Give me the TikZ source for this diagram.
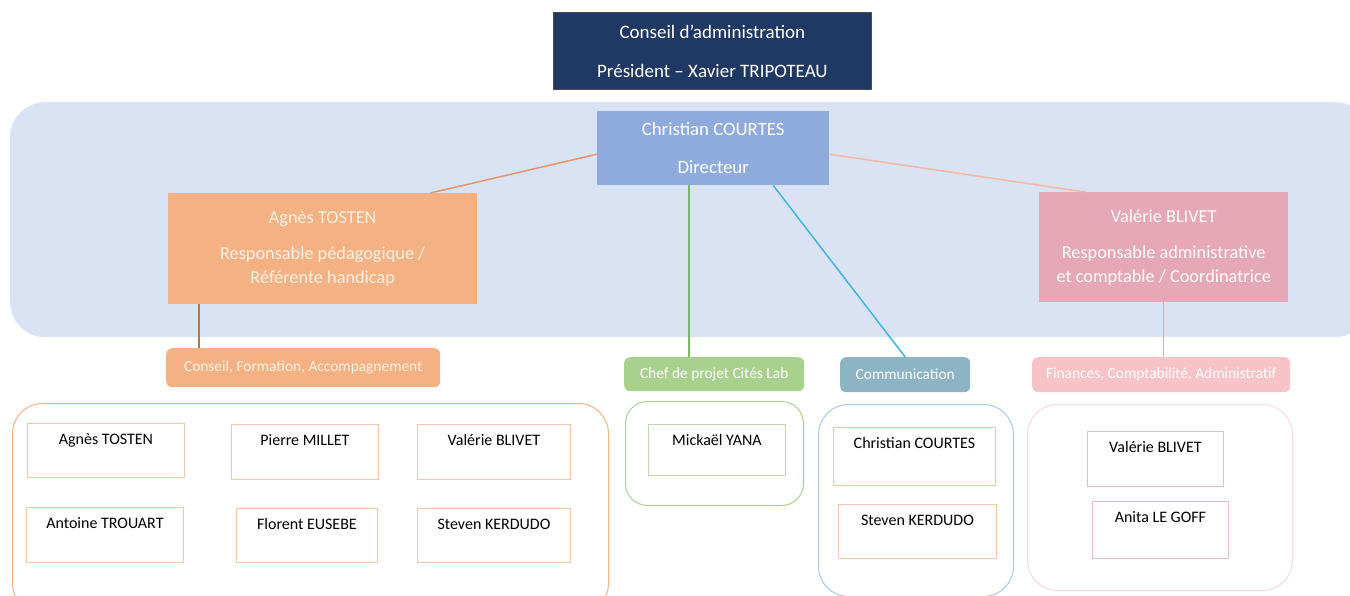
\documentclass[tikz,border=0pt]{standalone}
\usepackage{fontspec}
\setmainfont{Carlito}
\definecolor{navy}{HTML}{203864}
\definecolor{bgblue}{HTML}{DAE3F3}
\definecolor{dirblue}{HTML}{8FAADC}
\definecolor{orng}{HTML}{F4B183}
\definecolor{pinkbox}{HTML}{E6A8B6}
\definecolor{grn}{HTML}{A9D18E}
\definecolor{steel}{HTML}{8DB4C5}
\definecolor{lpink}{HTML}{F8C3C7}
\definecolor{gblue}{HTML}{A8C8E6}
\definecolor{gpink}{HTML}{F8D8DC}
\definecolor{ptan}{HTML}{EFC6A8}
\definecolor{pgrn}{HTML}{BFD8AC}
\definecolor{ppink}{HTML}{E8BCC4}
\definecolor{cream}{HTML}{FFF2E4}
\definecolor{linegrn}{HTML}{7DB85A}
\definecolor{linecyan}{HTML}{3DB4E6}
\definecolor{lineorng}{HTML}{E8956A}
\definecolor{linesalm}{HTML}{F4B8A0}
\definecolor{linebrn}{HTML}{B8754A}
\definecolor{lineval}{HTML}{F2A878}
\tikzset{
  x=1pt, y=-1pt,
  topbox/.style={fill=navy, draw=black!70, line width=0.8pt, text=white, align=center, font=\fontsize{19}{22}\selectfont},
  dirbox/.style={fill=dirblue, text=white, align=center, font=\fontsize{18.8}{22}\selectfont},
  rolebox/.style={align=center, font=\fontsize{18.3}{22}\selectfont},
  head/.style={rounded corners=6pt, font=\fontsize{15.4}{18}\selectfont, inner sep=0pt},
  grp/.style={line width=1pt, fill=white},
  pbox/.style={draw, line width=0.9pt, fill=white, inner sep=0pt, text height=21pt, font=\fontsize{16}{19}\selectfont, anchor=north west},
  conn/.style={line width=1.5pt}
}
\begin{document}
\begin{tikzpicture}
\useasboundingbox (0,0) rectangle (1350,595);
\begin{scope}
\clip (0,0) rectangle (1350,595);
\fill[white] (0,0) rectangle (1350,595);
% background band
\node[fill=bgblue, rounded corners=35pt, minimum width=1360pt, minimum height=235pt, anchor=north west, inner sep=0pt] (bg) at (10,102) {};
% top box
\node[topbox, minimum width=318pt, minimum height=77pt, anchor=north west, inner sep=0pt] (ca) at (553,12) {Conseil d’administration\\[17pt]Président – Xavier TRIPOTEAU};
% director
\node[dirbox, minimum width=232pt, minimum height=74pt, anchor=north west, inner sep=0pt] (dir) at (597,111) {Christian COURTES\\[16pt]Directeur};
% role boxes
\node[rolebox, fill=orng, text=cream, minimum width=309pt, minimum height=111pt, anchor=north west, inner sep=0pt] (agnes) at (168,193) {Agnès TOSTEN\\[14pt]Responsable pédagogique /\\[2pt]Référente handicap};
\node[rolebox, fill=pinkbox, text=white!95!pink, minimum width=249pt, minimum height=110pt, anchor=north west, inner sep=0pt] (val) at (1039,192) {Valérie BLIVET\\[14pt]Responsable administrative\\[2pt]et comptable / Coordinatrice};
% headers
\node[head, fill=orng, text=cream, minimum width=274pt, minimum height=39pt, anchor=north west] (hcons) at (166,348) {Conseil, Formation, Accompagnement};
\node[head, fill=grn, text=white, minimum width=180pt, minimum height=34pt, anchor=north west] (hchef) at (624,357) {Chef de projet Cités Lab};
\node[head, fill=steel, text=white, minimum width=130pt, minimum height=35pt, anchor=north west] (hcom) at (840,357) {Communication};
\node[head, fill=lpink, text=white, minimum width=258pt, minimum height=35pt, anchor=north west] (hfin) at (1032,357) {Finances, Comptabilité, Administratif};
% connectors
\draw[conn, draw=lineorng] ([yshift=-6pt]dir.west) -- ([xshift=-47pt]agnes.north east);
\draw[conn, draw=linesalm] ([yshift=-6pt]dir.east) -- ([xshift=46pt]val.north west);
\draw[conn, draw=linegrn] ([xshift=-24pt]dir.south) -- ([xshift=-25pt]hchef.north);
\draw[conn, draw=linecyan] ([xshift=60pt]dir.south) -- (hcom.north);
\draw[conn, draw=linebrn] ([xshift=31pt]agnes.south west) -- ([xshift=33pt]hcons.north west);
\draw[conn, draw=lineval] (val.south) -- (val.south |- hfin.north);
% groups
\node[grp, draw=orng, rounded corners=30pt, minimum width=596pt, minimum height=210pt, anchor=north west, inner sep=0pt] (g1) at (12,403) {};
\node[grp, draw=grn, rounded corners=22pt, minimum width=178pt, minimum height=104pt, anchor=north west, inner sep=0pt] (g2) at (625,401) {};
\node[grp, draw=gblue, rounded corners=30pt, minimum width=195pt, minimum height=192pt, anchor=north west, inner sep=0pt] (g3) at (818,404) {};
\node[grp, draw=gpink, rounded corners=30pt, minimum width=265pt, minimum height=186pt, anchor=north west, inner sep=0pt] (g4) at (1027,404) {};
% persons
\node[pbox, draw=ptan, minimum width=157pt, text depth=33pt] (p1) at (27,423) {Agnès TOSTEN};
\node[pbox, draw=ptan, minimum width=147pt, text depth=34pt] (p2) at (231,424) {Pierre MILLET};
\node[pbox, draw=ptan, minimum width=153pt, text depth=34pt] (p3) at (417,424) {Valérie BLIVET};
\node[pbox, draw=ptan, minimum width=157pt, text depth=34pt] (p4) at (26,507) {Antoine TROUART};
\node[pbox, draw=ptan, minimum width=141pt, text depth=33pt] (p5) at (236,508) {Florent EUSEBE};
\node[pbox, draw=ptan, minimum width=153pt, text depth=33pt] (p6) at (417,508) {Steven KERDUDO};
\node[pbox, draw=pgrn, minimum width=137pt, text depth=30pt] (m1) at (648,424) {Mickaël YANA};
\node[pbox, draw=ptan, minimum width=162pt, text depth=37pt] (c1) at (833,427) {Christian COURTES};
\node[pbox, draw=ptan, minimum width=158pt, text depth=33pt] (c2) at (838,504) {Steven KERDUDO};
\node[pbox, draw=ppink, minimum width=136pt, text depth=34pt] (f1) at (1087,431) {Valérie BLIVET};
\node[pbox, draw=ppink, minimum width=136pt, text depth=36pt] (f2) at (1092,501) {Anita LE GOFF};
\end{scope}
\end{tikzpicture}
\end{document}
